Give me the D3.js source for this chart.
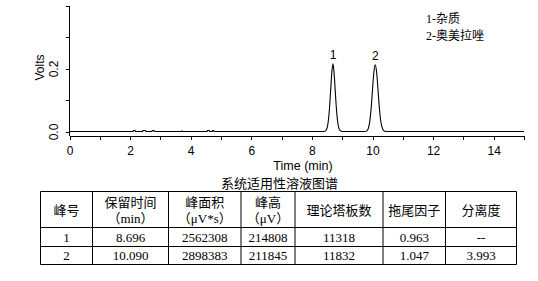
<!DOCTYPE html>
<html>
<head>
<meta charset="utf-8">
<script src="https://cdn.jsdelivr.net/npm/d3@7.9.0/dist/d3.min.js"></script>
<style>
  html, body { margin: 0; padding: 0; background: #fff; }
  svg { display: block; }
  .axis path, .axis line { stroke: #000; shape-rendering: crispEdges; }
  .axis text { font-family: Arial, 'Liberation Sans', sans-serif; font-size: 12px; fill: #000; }
</style>
</head>
<body>
<div id="chart"></div>
<script>
/* ---------------------------------------------------------
   DATA
--------------------------------------------------------- */
// chromatogram trace: [time (min), signal (V)]
const trace = [
  [0, 0], [2.10, 0], [2.11, 0.003], [2.17, 0.003], [2.18, 0],
  [2.41, 0], [2.42, 0.003], [2.51, 0.003], [2.52, 0],
  [2.72, 0], [2.73, 0.003], [2.79, 0.003], [2.80, 0],
  [3.70, 0], [3.71, 0.002], [3.72, 0],
  [4.54, 0], [4.55, 0.003], [4.62, 0.003], [4.63, 0],
  [4.71, 0], [4.72, 0.003], [4.76, 0.003], [4.77, 0],
  [8.40, 0], [8.45, 0.002], [8.50, 0.011], [8.54, 0.032], [8.58, 0.073],
  [8.62, 0.133], [8.66, 0.190], [8.696, 0.2148], [8.73, 0.188], [8.77, 0.130],
  [8.81, 0.071], [8.85, 0.031], [8.89, 0.011], [8.94, 0.003], [9.00, 0],
  [9.75, 0], [9.81, 0.002], [9.865, 0.011], [9.91, 0.032], [9.955, 0.073],
  [10.00, 0.132], [10.045, 0.188], [10.090, 0.2118], [10.135, 0.189], [10.18, 0.135],
  [10.225, 0.077], [10.27, 0.035], [10.315, 0.013], [10.37, 0.003], [10.44, 0],
  [15, 0]
];

const peakLabels = ['1', '2'];
const peakTimes = [8.696, 10.090];
const peakHeights = [0.2148, 0.2118];

const legendLines = ['1-杂质', '2-奥美拉唑'];

const xTicks = d3.range(0, 16, 1);
const xTickLabels = [0, 2, 4, 6, 8, 10, 12, 14];
const yTicks = [0, 0.1, 0.2, 0.3, 0.4];
const yTickLabels = [0, 0.2];

const chartTitle = '系统适用性溶液图谱';

// table
const headerLine1 = ['峰号', '保留时间', '峰面积', '峰高', '理论塔板数', '拖尾因子', '分离度'];
const headerLine2 = ['', '（min）', '（μV*s）', '（μV）', '', '', ''];
const peakNo = ['1', '2'];
const retention = ['8.696', '10.090'];
const area = ['2562308', '2898383'];
const peakHeightUV = ['214808', '211845'];
const plates = ['11318', '11832'];
const tailing = ['0.963', '1.047'];
const resolution = ['--', '3.993'];

/* ---------------------------------------------------------
   CHART
--------------------------------------------------------- */
const width = 538;
const height = 281;

const svg = d3.select('#chart').append('svg')
  .attr('width', width)
  .attr('height', height);

const xScale = d3.scaleLinear().domain([0, 15]).range([69.5, 524]);
const yScale = d3.scaleLinear().domain([0, 0.4]).range([131.5, 5.5]);
const axisY = 135.5;

// x axis
const xAxis = d3.axisBottom(xScale)
  .tickValues(xTicks)
  .tickSize(4)
  .tickSizeOuter(0)
  .tickPadding(7)
  .tickFormat((d) => (xTickLabels.includes(d) ? d : ''));

svg.append('g')
  .attr('class', 'axis x-axis')
  .attr('transform', `translate(0, ${axisY})`)
  .call(xAxis);

// y axis
const yAxis = d3.axisLeft(yScale)
  .tickValues(yTicks)
  .tickSize(4)
  .tickSizeOuter(0)
  .tickFormat((d) => (yTickLabels.includes(d) ? d3.format('.1f')(d) : ''));

const yG = svg.append('g')
  .attr('class', 'axis y-axis')
  .attr('transform', 'translate(69.5, 0)')
  .call(yAxis);

yG.select('.domain').remove();
yG.append('line')
  .attr('x1', 0).attr('x2', 0)
  .attr('y1', yScale(0.4)).attr('y2', axisY)
  .attr('stroke', '#000');

yG.selectAll('.tick text')
  .attr('x', null)
  .attr('dy', null)
  .attr('text-anchor', 'middle')
  .attr('transform', 'translate(-11.5, 0) rotate(-90)');

svg.append('text')
  .attr('transform', `translate(44, ${yScale(0.2) - 1}) rotate(-90)`)
  .attr('text-anchor', 'middle')
  .style('font', '12px Arial, "Liberation Sans", sans-serif')
  .text('Volts');

// trace
const line = d3.line()
  .x((d) => xScale(d[0]))
  .y((d) => yScale(d[1]))
  .curve(d3.curveMonotoneX);

svg.append('path')
  .datum(trace)
  .attr('d', line)
  .attr('fill', 'none')
  .attr('stroke', '#000')
  .attr('stroke-width', 1.1);

// peak labels
svg.append('g')
  .selectAll('text')
  .data(peakLabels)
  .join('text')
  .attr('x', (d, i) => xScale(peakTimes[i]))
  .attr('y', (d, i) => yScale(peakHeights[i]) - 5)
  .attr('text-anchor', 'middle')
  .style('font', '12px Arial, "Liberation Sans", sans-serif')
  .text((d) => d);

// legend
svg.append('g')
  .selectAll('text')
  .data(legendLines)
  .join('text')
  .attr('x', 426)
  .attr('y', (d, i) => 22.5 + i * 17)
  .style('font', '12px "Liberation Serif", "Noto Sans CJK SC", serif')
  .text((d) => d);

// axis title and chart title
svg.append('text')
  .attr('x', 303)
  .attr('y', 169.5)
  .attr('text-anchor', 'middle')
  .style('font', '12.5px Arial, "Liberation Sans", sans-serif')
  .text('Time (min)');

svg.append('text')
  .attr('x', 279.5)
  .attr('y', 187.5)
  .attr('text-anchor', 'middle')
  .style('font', '13px "Noto Sans CJK SC", sans-serif')
  .text(chartTitle);

/* ---------------------------------------------------------
   TABLE
--------------------------------------------------------- */
const colEdges = [40.5, 92.5, 168.5, 241, 295, 383, 445.5, 516.5];
const rowEdges = [191.5, 227.5, 246.5, 264.5];

const rows = peakNo.map((d, i) => [
  d, retention[i], area[i], peakHeightUV[i], plates[i], tailing[i], resolution[i],
]);

const table = svg.append('g').attr('class', 'table');

table.selectAll('line.h')
  .data(rowEdges)
  .join('line')
  .attr('class', 'h')
  .attr('x1', colEdges[0]).attr('x2', colEdges[colEdges.length - 1])
  .attr('y1', (d) => d).attr('y2', (d) => d)
  .attr('stroke', '#000');

table.selectAll('line.v')
  .data(colEdges)
  .join('line')
  .attr('class', 'v')
  .attr('x1', (d) => d).attr('x2', (d) => d)
  .attr('y1', rowEdges[0]).attr('y2', rowEdges[rowEdges.length - 1])
  .attr('stroke', '#000');

const colMid = (i) => (colEdges[i] + colEdges[i + 1]) / 2;

// header
headerLine1.forEach((h, i) => {
  const two = headerLine2[i] !== '';
  table.append('text')
    .attr('x', colMid(i))
    .attr('y', two ? 207 : 215)
    .attr('text-anchor', 'middle')
    .style('font', '13px "Noto Sans CJK SC", sans-serif')
    .text(h);
  if (two) {
    table.append('text')
      .attr('x', colMid(i))
      .attr('y', 223)
      .attr('text-anchor', 'middle')
      .style('font', '13px "Liberation Serif", "Noto Sans CJK SC", serif')
      .text(headerLine2[i]);
  }
});

// body
rows.forEach((r, ri) => {
  r.forEach((v, ci) => {
    table.append('text')
      .attr('x', colMid(ci))
      .attr('y', (rowEdges[ri + 1] + rowEdges[ri + 2]) / 2 + 4.5)
      .attr('text-anchor', 'middle')
      .style('font', '13px "Liberation Serif", serif')
      .text(v);
  });
});
</script>
</body>
</html>
